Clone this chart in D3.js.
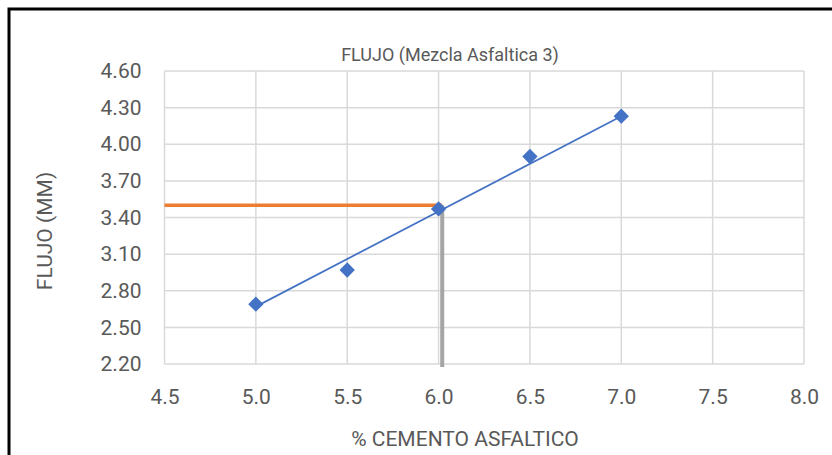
<!DOCTYPE html>
<html>
<head>
<meta charset="utf-8">
<script src="https://cdn.jsdelivr.net/npm/d3@7"></script>
<style>
  html, body { margin: 0; padding: 0; background: #fff; }
  svg { display: block; }
  text { font-family: Roboto, "Noto Sans", sans-serif; fill: #595959; }
</style>
</head>
<body>
<svg id="chart" width="832" height="455"></svg>
<script>
// ---- data ----
const pctAsphalt = [5.0, 5.5, 6.0, 6.5, 7.0];
const flowMM = [2.69, 2.97, 3.47, 3.90, 4.23];
const trendPct = [5.0, 7.0];
const trendFlow = [2.67, 4.23];
const targetFlow = 3.50;
const optimumPct = 6.02;
const xTicks = [4.5, 5.0, 5.5, 6.0, 6.5, 7.0, 7.5, 8.0];
const yTicks = [2.20, 2.50, 2.80, 3.10, 3.40, 3.70, 4.00, 4.30, 4.60];
const chartTitle = "FLUJO (Mezcla Asfaltica 3)";
const xTitle = "% CEMENTO ASFALTICO";
const yTitle = "FLUJO (MM)";

const svg = d3.select("#chart");
const W = 832, H = 455;
const plot = { left: 164.5, right: 804, top: 71, bottom: 364 };

const x = d3.scaleLinear().domain([4.5, 8.0]).range([plot.left, plot.right]);
const y = d3.scaleLinear().domain([2.2, 4.6]).range([plot.bottom, plot.top]);

// outer frame (left and top edges visible)
svg.append("path")
  .attr("d", `M9,${H} L9,9 L${W},9`)
  .attr("fill", "none").attr("stroke", "#000").attr("stroke-width", 3);

// gridlines
const grid = svg.append("g");
grid.selectAll("line.v").data(xTicks).enter().append("line")
  .attr("x1", d => x(d)).attr("x2", d => x(d))
  .attr("y1", plot.top).attr("y2", plot.bottom)
  .attr("stroke", "#D9D9D9").attr("stroke-width", 1.5);
grid.selectAll("line.h").data(yTicks).enter().append("line")
  .attr("y1", d => y(d)).attr("y2", d => y(d))
  .attr("x1", plot.left).attr("x2", plot.right)
  .attr("stroke", "#D9D9D9").attr("stroke-width", 1.5);

// axes (labels only)
const xAxis = svg.append("g").attr("transform", `translate(0,${plot.bottom})`)
  .call(d3.axisBottom(x).tickValues(xTicks).tickFormat(d3.format(".1f")).tickSize(0).tickPadding(25));
const yAxis = svg.append("g").attr("transform", `translate(${plot.left},0)`)
  .call(d3.axisLeft(y).tickValues(yTicks).tickFormat(d3.format(".2f")).tickSize(0).tickPadding(23));
[xAxis, yAxis].forEach(a => {
  a.select(".domain").remove();
  a.selectAll("text").style("font-size", "21px").attr("fill", "#595959")
    .style("font-family", "Roboto, 'Noto Sans', sans-serif");
});

// reference lines
svg.append("line")
  .attr("x1", x(4.5)).attr("x2", x(optimumPct))
  .attr("y1", y(targetFlow)).attr("y2", y(targetFlow))
  .attr("stroke", "#ED7D31").attr("stroke-width", 3.5);
svg.append("line")
  .attr("x1", x(optimumPct)).attr("x2", x(optimumPct))
  .attr("y1", y(targetFlow)).attr("y2", y(2.2) + 3)
  .attr("stroke", "#A5A5A5").attr("stroke-width", 4);

// trendline
svg.append("path")
  .datum(trendPct.map((p, i) => [p, trendFlow[i]]))
  .attr("d", d3.line().x(d => x(d[0])).y(d => y(d[1])))
  .attr("fill", "none").attr("stroke", "#4472C4").attr("stroke-width", 1.75);

// markers
svg.append("g").selectAll("path").data(pctAsphalt.map((p, i) => [p, flowMM[i]])).enter()
  .append("path")
  .attr("d", d3.symbol().type(d3.symbolDiamond2).size(150))
  .attr("transform", d => `translate(${x(d[0])},${y(d[1])})`)
  .attr("fill", "#4472C4");

// titles
svg.append("text").attr("x", 450).attr("y", 61).attr("text-anchor", "middle")
  .style("font-size", "18px").text(chartTitle);
svg.append("text").attr("x", 465).attr("y", 446).attr("text-anchor", "middle")
  .style("font-size", "21px").text(xTitle);
svg.append("text").attr("transform", "translate(52,231) rotate(-90)").attr("text-anchor", "middle")
  .style("font-size", "21px").text(yTitle);
</script>
</body>
</html>
